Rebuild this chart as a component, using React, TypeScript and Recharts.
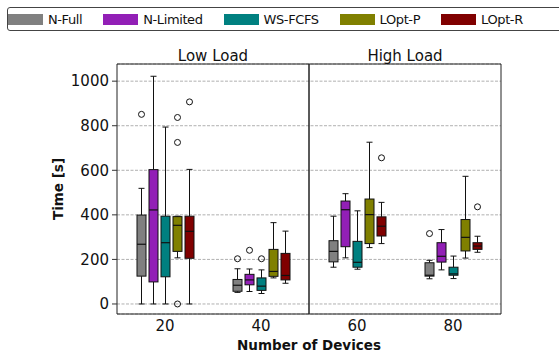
import {
  Bar,
  BarChart,
  CartesianGrid,
  Label,
  Legend,
  ReferenceArea,
  XAxis,
  YAxis,
} from "recharts";

const CATEGORIES = ["20", "40", "60", "80"];
const SERIES = ["N-Full", "N-Limited", "WS-FCFS", "LOpt-P", "LOpt-R"];
const COLORS = ["#808080", "#921fb6", "#008080", "#808000", "#800000"];
const Y_TICKS = [0, 200, 400, 600, 800, 1000];

// [whisker low, q1, median, q3, whisker high], one entry per category
const N_FULL = [
  [0, 125, 268, 399, 519],
  [52, 57, 84, 110, 158],
  [165, 189, 236, 284, 394],
  [113, 125, 129, 185, 196],
];
const N_LIMITED = [
  [0, 99, 422, 603, 1022],
  [56, 86, 108, 133, 157],
  [207, 257, 423, 462, 495],
  [153, 188, 214, 275, 334],
];
const WS_FCFS = [
  [0, 122, 275, 394, 794],
  [47, 61, 80, 117, 153],
  [156, 165, 187, 281, 418],
  [114, 129, 135, 165, 215],
];
const LOPT_P = [
  [207, 236, 353, 392, 394],
  [117, 124, 146, 245, 365],
  [253, 271, 401, 471, 726],
  [206, 238, 299, 379, 573],
];
const LOPT_R = [
  [0, 205, 326, 394, 604],
  [93, 108, 128, 227, 327],
  [271, 305, 349, 391, 456],
  [232, 245, 260, 275, 304],
];

// points outside the whiskers
const N_FULL_OUT = [[851], [203], [], [316]];
const N_LIMITED_OUT = [[], [241], [], []];
const WS_FCFS_OUT = [[], [203], [], []];
const LOPT_P_OUT = [[837, 725, 0], [], [], []];
const LOPT_R_OUT = [[907], [], [656], [436]];

const STATS = [N_FULL, N_LIMITED, WS_FCFS, LOPT_P, LOPT_R];
const OUTLIERS = [N_FULL_OUT, N_LIMITED_OUT, WS_FCFS_OUT, LOPT_P_OUT, LOPT_R_OUT];

const FONT = "'DejaVu Sans', sans-serif";
const INK = "#111";

// Each bar spans the full range of its box (whiskers + outliers); the shape then
// places quartiles inside that span, so every mark comes from the y scale.
const rows = CATEGORIES.map((category, c) => {
  const row: Record<string, unknown> = { category };
  SERIES.forEach((_, s) => {
    const st = STATS[s][c];
    const out = OUTLIERS[s][c];
    row[`r${s}`] = [Math.min(st[0], ...out), Math.max(st[4], ...out)];
    row[`s${s}`] = st;
    row[`o${s}`] = out;
  });
  return row;
});

function BoxShape(props: any) {
  const { x, y, width, height, payload, series } = props;
  const [lo, hi] = payload[`r${series}`];
  const [wLo, q1, med, q3, wHi] = payload[`s${series}`];
  const out: number[] = payload[`o${series}`];
  const py = (v: number) => y + ((hi - v) / (hi - lo)) * height;
  const cx = x + width / 2;
  const cap = width / 3;
  return (
    <g>
      <line x1={cx} x2={cx} y1={py(wHi)} y2={py(q3)} stroke={INK} />
      <line x1={cx} x2={cx} y1={py(q1)} y2={py(wLo)} stroke={INK} />
      <line x1={cx - cap} x2={cx + cap} y1={py(wHi)} y2={py(wHi)} stroke={INK} />
      <line x1={cx - cap} x2={cx + cap} y1={py(wLo)} y2={py(wLo)} stroke={INK} />
      <rect
        x={x}
        y={py(q3)}
        width={width}
        height={Math.max(py(q1) - py(q3), 0.5)}
        fill={COLORS[series]}
        stroke={INK}
      />
      <line x1={x} x2={x + width} y1={py(med)} y2={py(med)} stroke={INK} strokeWidth={1.2} />
      {out.map((v, k) => (
        <circle key={k} cx={cx} cy={py(v)} r={3} fill="none" stroke={INK} />
      ))}
    </g>
  );
}

function LegendBox() {
  return (
    <div
      style={{
        boxSizing: "border-box",
        height: 24,
        width: 600,
        border: "1px solid #444",
        borderRadius: 3,
        display: "flex",
        alignItems: "center",
        gap: 21,
        fontFamily: FONT,
        fontSize: 13,
        letterSpacing: -0.4,
        color: INK,
        background: "#fff",
      }}
    >
      {SERIES.map((name, i) => (
        <div key={name} style={{ display: "flex", alignItems: "center" }}>
          <span
            style={{ width: 35, height: 11, background: COLORS[i], marginRight: 5 }}
          />
          <span>{name}</span>
        </div>
      ))}
    </div>
  );
}

export default function App() {
  return (
    <div
      style={{
        position: "absolute",
        left: 0,
        top: 0,
        width: 559,
        height: 354,
        overflow: "hidden",
        background: "#fff",
        fontFamily: FONT,
      }}
    >
      <BarChart
        width={559}
        height={354}
        data={rows}
        margin={{ top: 64, right: 58, bottom: 0, left: 0 }}
        barSize={9}
        barGap={3}
      >
        <CartesianGrid
          vertical={false}
          stroke="#b0b0b0"
          strokeDasharray="3 1.5"
        />
        <XAxis
          dataKey="category"
          height={40}
          axisLine={false}
          tickLine={false}
          tickSize={6}
          tickMargin={0}
          tick={{ fontSize: 15, fill: INK }}
        >
          <Label
            value="Number of Devices"
            position="insideBottom"
            offset={4}
            style={{ fontWeight: "bold", fontSize: 13.5, fill: INK }}
          />
        </XAxis>
        <YAxis
          width={117}
          domain={[-45, 1077]}
          ticks={Y_TICKS}
          axisLine={false}
          stroke="#333"
          tickSize={5}
          tickMargin={3}
          tick={{ fontSize: 15, fill: INK }}
        >
          <Label
            value="Time [s]"
            angle={-90}
            position="center"
            style={{ fontWeight: "bold", fontSize: 13.5, fill: INK }}
          />
        </YAxis>
        <ReferenceArea
          x1="20"
          x2="40"
          fill="none"
          fillOpacity={0}
          stroke="#222"
          strokeWidth={1}
          label={{ value: "Low Load", position: "top", offset: 3, fontSize: 15, fill: INK }}
        />
        <ReferenceArea
          x1="60"
          x2="80"
          fill="none"
          fillOpacity={0}
          stroke="#222"
          strokeWidth={1}
          label={{ value: "High Load", position: "top", offset: 3, fontSize: 15, fill: INK }}
        />
        {SERIES.map((name, s) => (
          <Bar
            key={name}
            name={name}
            dataKey={`r${s}`}
            fill={COLORS[s]}
            isAnimationActive={false}
            shape={(p: any) => <BoxShape {...p} series={s} />}
          />
        ))}
        <Legend
          layout="horizontal"
          verticalAlign="middle"
          align="center"
          wrapperStyle={{ top: 7, left: 7, width: 600, height: 24 }}
          content={() => <LegendBox />}
        />
      </BarChart>
    </div>
  );
}
